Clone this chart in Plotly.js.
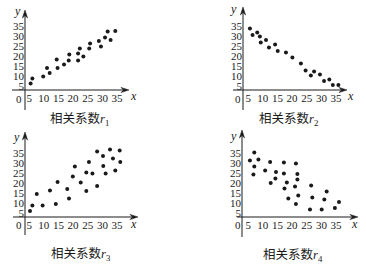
<!DOCTYPE html>
<html>
<head>
<meta charset="utf-8">
<script src="https://cdn.plot.ly/plotly-3.0.1.min.js"></script>
<style>html,body{margin:0;padding:0;background:#fff;}#chart{width:366px;height:270px;}</style>
</head>
<body>
<div id="chart"></div>
<script>
// ---- data ----
const tickVals = [5, 10, 15, 20, 25, 30, 35];
const tickText = ["5", "10", "15", "20", "25", "30", "35"];

const r1x = [5.5,6.1,9.8,11.1,12,14.4,14.7,16.9,18.7,18.5,21.7,21.7,22.3,23.5,25.5,25.8,28.8,29.5,30.9,31.8,32.8,34.4];
const r1y = [6.3,8.8,9.8,14,11.5,18.3,14,15.7,20.8,17.8,21.3,17.8,23.7,19.7,23.8,26.3,27.5,24.7,29.3,32.2,28,32.5];

const r2x = [5.6,6.5,8.1,9.0,9.3,11.1,12.1,14.2,15.1,17.9,20.1,23.0,24.6,26.4,27.5,29.5,30.9,32.7,33.9,35.8];
const r2y = [33.8,30.5,31.8,29.7,26.7,28,24.3,25.8,22.5,21.7,19.2,16.3,12.8,10.2,12.2,10.8,7.5,8.3,5.5,5.5];

const r3x = [5.3,6.1,7.6,9.6,12.1,14.1,14.7,18,18.6,19.9,20.6,22.6,24.5,24.5,25.4,26.6,28.2,28.2,30.2,30.3,31.1,32.6,33.6,34.4,35.9,36.1];
const r3y = [6,8.7,14.5,8.7,16.2,9.5,20.5,17,12.3,23.2,28.3,20.2,25.2,16,30.5,24.8,35.8,18.5,33.5,28.5,24.8,36.7,32.3,26.2,36.2,30.5];

const r4x = [5.6,7.1,7.1,6.8,8.5,10.8,12.5,12.7,14.5,14.3,17.2,17.2,18.2,17.4,18.7,21.3,21.8,21.8,21,22.1,21.3,26.5,26.9,26.1,30.1,31.8,31,34.6,36];
const r4y = [31.3,35.3,28.2,24.2,31.7,26.2,30.5,20,25.5,22.3,30.3,24.8,20.3,17.2,12.2,29.8,24.5,21.7,18.2,13.7,9.5,18.8,12.8,6.7,6.7,15.8,11.7,7.5,10.5];

const captionBase = "相关系数";
const subs = ["1", "2", "3", "4"];

// ---- layout geometry (pixels) ----
const W = 366, H = 270;
const KX = 2.93, KY = 2.0, XMAX = 42, YMAX = 45;
const panels = [
  {ox: 14.5,  oy: 96,  axX: 25,  axY: 90,  xTip: 129, yTip: 10, xStart: 12,  yEnd: 110, cap: [79, 118], zero: [19.3, 98.5], xl: [133, 96], yl: [17, 11]},
  {ox: 233.5, oy: 96,  axX: 243, axY: 90,  xTip: 347, yTip: 7,  xStart: 233, yEnd: 110, cap: [288, 118], zero: [238.3, 98.5], xl: [350, 96], yl: [233, 9]},
  {ox: 14.5,  oy: 223, axX: 25,  axY: 217, xTip: 138, yTip: 132, xStart: 13, yEnd: 235, cap: [81, 253], zero: [19.3, 225], xl: [133, 224], yl: [16, 137]},
  {ox: 233.5, oy: 223, axX: 242, axY: 217, xTip: 358, yTip: 130, xStart: 237, yEnd: 237, cap: [293, 254], zero: [238, 225], xl: [354, 224], yl: [233, 136]}
];
const xs = [r1x, r2x, r3x, r4x];
const ys = [r1y, r2y, r3y, r4y];

const ink = "#1a1a1a";
const serif = "Liberation Serif, Times New Roman, serif";
const px = v => v / W;
const py = v => 1 - v / H;
const pt = (a, b) => px(a).toFixed(5) + "," + py(b).toFixed(5);

const data = [];
const layout = {
  width: W, height: H,
  margin: {l: 0, r: 0, t: 0, b: 0},
  paper_bgcolor: "#fff", plot_bgcolor: "rgba(0,0,0,0)",
  showlegend: false,
  annotations: [],
  shapes: []
};

const AL = 8, AW = 2.6, AN = 5.5; // arrowhead length, half width, notch

panels.forEach((p, i) => {
  const n = i === 0 ? "" : String(i + 1);
  data.push({
    type: "scatter", mode: "markers",
    x: xs[i], y: ys[i],
    xaxis: "x" + n, yaxis: "y" + n,
    marker: {size: 4, color: ink},
    hoverinfo: "skip"
  });
  const xmin = (p.axX - p.ox) / KX;
  const ymin = (p.oy - p.axY) / KY;
  const common = {
    showgrid: false, zeroline: false, showline: false, ticks: "",
    tickmode: "array", tickvals: tickVals, ticktext: tickText,
    tickfont: {family: serif, size: 11, color: ink}, fixedrange: true
  };
  layout["xaxis" + n] = Object.assign({}, common, {
    range: [xmin, XMAX], domain: [px(p.axX), px(p.ox + KX * XMAX)], anchor: "y" + n
  });
  layout["yaxis" + n] = Object.assign({}, common, {
    range: [ymin, YMAX], domain: [py(p.axY), py(p.oy - KY * YMAX)], anchor: "x" + n
  });
  // axis lines
  const ln = {type: "line", xref: "paper", yref: "paper", line: {color: ink, width: 1}};
  layout.shapes.push(Object.assign({}, ln, {x0: px(p.xStart), x1: px(p.xTip - 3), y0: py(p.axY), y1: py(p.axY)}));
  layout.shapes.push(Object.assign({}, ln, {x0: px(p.axX), x1: px(p.axX), y0: py(p.yEnd), y1: py(p.yTip + 3)}));
  // arrowheads
  const head = {type: "path", xref: "paper", yref: "paper", fillcolor: ink, line: {color: ink, width: 0.5}};
  layout.shapes.push(Object.assign({}, head, {path:
    "M" + pt(p.xTip, p.axY) + " L" + pt(p.xTip - AL, p.axY - AW) + " L" + pt(p.xTip - AN, p.axY) +
    " L" + pt(p.xTip - AL, p.axY + AW) + " Z"}));
  layout.shapes.push(Object.assign({}, head, {path:
    "M" + pt(p.axX, p.yTip) + " L" + pt(p.axX - AW, p.yTip + AL) + " L" + pt(p.axX, p.yTip + AN) +
    " L" + pt(p.axX + AW, p.yTip + AL) + " Z"}));
  const txt = (t, pos, font) => ({xref: "paper", yref: "paper", x: px(pos[0]), y: py(pos[1]),
    xanchor: "center", yanchor: "middle", text: t, showarrow: false, font: font});
  layout.annotations.push(txt("0", p.zero, {family: serif, size: 11, color: ink}));
  layout.annotations.push(txt("<i>x</i>", p.xl, {family: serif, size: 12, color: ink}));
  layout.annotations.push(txt("<i>y</i>", p.yl, {family: serif, size: 12, color: ink}));
  layout.annotations.push(txt(captionBase + '<span style="font-family:Liberation Serif,serif"><i>r</i><sub>' + subs[i] + '</sub></span>',
    p.cap, {family: "Noto Sans CJK SC, sans-serif", size: 12.5, color: ink}));
});

Plotly.newPlot("chart", data, layout, {staticPlot: true, displayModeBar: false});
</script>
</body>
</html>
